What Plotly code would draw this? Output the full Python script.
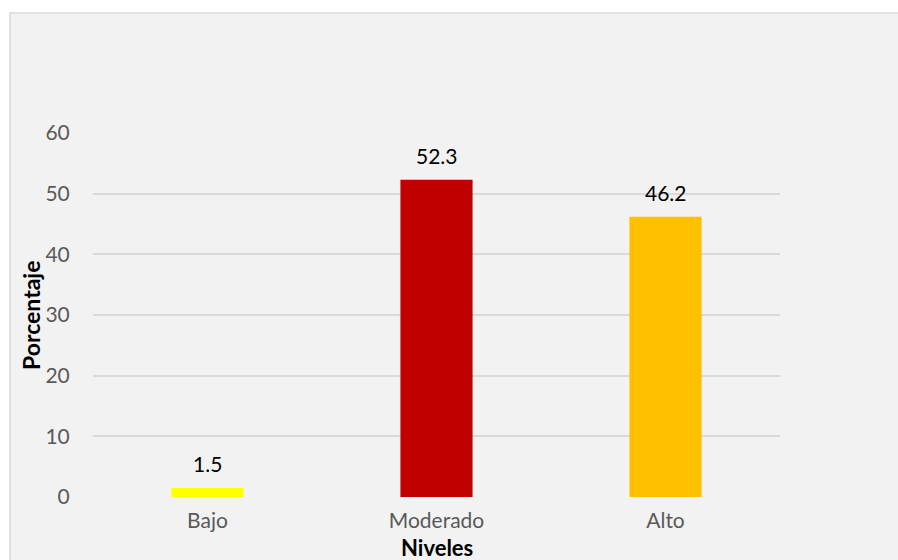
import plotly.graph_objects as go

niveles = ["Bajo", "Moderado", "Alto"]
porcentaje = [1.5, 52.3, 46.2]
colores = ["#FFFF00", "#C00000", "#FFC000"]
y_ticks = [0, 10, 20, 30, 40, 50, 60]

W, H = 898, 560
ML, MR, MT, MB = 93, 118, 133, 63
pw, ph = W - ML - MR, H - MT - MB


def px_x(p):
    return (p - ML) / pw


def px_y(p):
    return (H - MB - p) / ph


fig = go.Figure(
    go.Bar(
        x=niveles,
        y=porcentaje,
        marker=dict(color=colores, line=dict(width=0)),
        width=0.315,
        hoverinfo="skip",
    )
)

# value labels above each bar
for n, v in zip(niveles, porcentaje):
    fig.add_annotation(
        x=n, y=v, text=f"{v:.1f}", showarrow=False,
        yanchor="bottom", yshift=10,
        font=dict(family="Lato", size=21, color="#000000"),
    )

# axis titles
fig.add_annotation(
    xref="paper", yref="paper", x=px_x(437), y=px_y(547.5),
    xanchor="center", yanchor="middle", showarrow=False,
    text="<b>Niveles</b>", borderpad=0,
    font=dict(family="Lato", size=22, color="#000000"),
)
fig.add_annotation(
    xref="paper", yref="paper", x=px_x(31), y=px_y(315),
    xanchor="center", yanchor="middle", showarrow=False, textangle=-90,
    text="<b>Porcentaje</b>", borderpad=0,
    font=dict(family="Lato", size=23, color="#000000"),
)

# chart-area background with light border
fig.add_shape(
    type="rect", xref="paper", yref="paper", layer="below",
    x0=px_x(10), x1=px_x(905), y0=px_y(570), y1=px_y(13),
    fillcolor="#F2F2F2", line=dict(color="#D9D9D9", width=1.5),
)

fig.update_layout(
    width=W, height=H,
    margin=dict(l=ML, r=MR, t=MT, b=MB),
    paper_bgcolor="#FFFFFF",
    plot_bgcolor="rgba(0,0,0,0)",
    showlegend=False,
    bargap=0.685,
    font=dict(family="Lato"),
)

fig.update_xaxes(
    automargin=False,
    showgrid=False, zeroline=False, showline=False,
    ticks="outside", ticklen=5, tickcolor="rgba(0,0,0,0)",
    tickfont=dict(family="Lato", size=21, color="#595959"),
)

fig.update_yaxes(
    automargin=False,
    range=[0, 60], tickvals=y_ticks,
    showgrid=True, gridcolor="#D9D9D9", gridwidth=1.5,
    zeroline=False, showline=False,
    ticks="outside", ticklen=18, tickcolor="rgba(0,0,0,0)",
    tickfont=dict(family="Lato", size=21, color="#595959"),
)

fig.write_html("out.html")
